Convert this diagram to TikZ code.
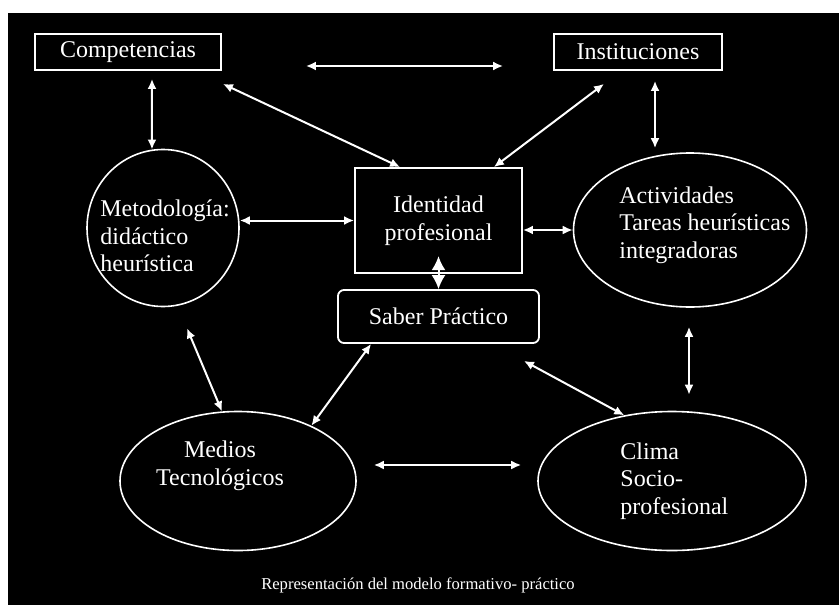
\documentclass[tikz,border=0pt]{standalone}
\usepackage{fontspec}
\setmainfont{Liberation Serif}
\usetikzlibrary{shapes,calc,arrows.meta}
\begin{document}
\begin{tikzpicture}[x=0.5pt,y=-0.5pt,
  every node/.style={font=\fontsize{12}{13.8}\selectfont},
  caja/.style={draw=white,line width=0.9pt,text=white,align=center,inner sep=0pt},
  elipse/.style={ellipse,draw=white,line width=0.8pt,inner sep=0pt},
  texto/.style={text=white,align=left,inner sep=0pt},
  flecha/.style={white,line width=1pt,{Latex[length=5pt,width=4.5pt]}-{Latex[length=5pt,width=4.5pt]}}]
\useasboundingbox (0,0) rectangle (839,605);
\fill[white] (0,0) rectangle (839,605);
\fill[black] (8,13) rectangle (839,605);
% cajas
\node[caja,minimum width=93pt,minimum height=18pt] (comp) at (128,52) {Competencias};
\node[caja,minimum width=84pt,minimum height=18pt] (inst) at (638,52) {Instituciones};
\node[caja,minimum width=83.5pt,minimum height=52.5pt] (ident) at (438.5,220.5) {Identidad\\profesional};
\node[caja,rounded corners=3pt,minimum width=100.5pt,minimum height=26.5pt] (saber) at (438.5,316.5) {Saber Práctico};
% elipses
\node[elipse,minimum width=76pt,minimum height=78.5pt] (metod) at (163,228) {};
\node[elipse,minimum width=116.5pt,minimum height=77pt] (activ) at (690,230) {};
\node[elipse,minimum width=118pt,minimum height=69.5pt] (medios) at (238,481) {};
\node[elipse,minimum width=134pt,minimum height=69.5pt] (clima) at (672,481) {};
\node[texto,anchor=west] (metodT) at (100,236) {Metodología:\\didáctico\\heurística};
\node[texto,anchor=west] (activT) at (619,225) {Actividades\\Tareas heurísticas\\integradoras};
\node[texto,align=center] (mediosT) at (220,466) {Medios\\Tecnológicos};
\node[texto,anchor=west] (climaT) at (620,481) {Clima\\Socio-\\profesional};
\node[texto,font=\fontsize{8.3}{10}\selectfont] (titulo) at (418,585) {Representación del modelo formativo- práctico};
% flechas
\draw[flecha] ($(comp.east)+(84,14)$) -- ($(inst.west)+(-50,14)$);
\draw[flecha] ($(comp.south)+(24,8)$) -- (metod.98);
\draw[flecha] ($(comp.south east)+(1,13)$) -- ($(ident.north west)+(46,0)$);
\draw[flecha] ($(inst.south)+(-34,13)$) -- ($(ident.north east)+(-29,0)$);
\draw[flecha] ($(inst.south)+(17,10)$) -- ($(activ.north)+(-35,-4)$);
\draw[flecha] (metod.east |- ident.west) -- (ident.west);
\draw[flecha] (ident.east |- activ.west) -- (activ.west);
\draw[white,line width=1pt,{Latex[length=7pt,width=7pt]}-{Latex[length=7pt,width=7pt]}] ($(saber.north)+(0,-33)$) -- (saber.north);
\draw[flecha] ($(metod.south)+(24,21)$) -- (medios.103);
\draw[flecha] ($(saber.south west)+(34,0)$) -- (medios.37);
\draw[flecha] ($(saber.south east)+(-16,17)$) -- (clima.126);
\draw[flecha] ($(activ.south)+(-1,19)$) -- ($(clima.north)+(17,-16)$);
\draw[flecha] ($(medios.east)+(17,-16)$) -- ($(clima.west)+(-16,-16)$);
\end{tikzpicture}
\end{document}
